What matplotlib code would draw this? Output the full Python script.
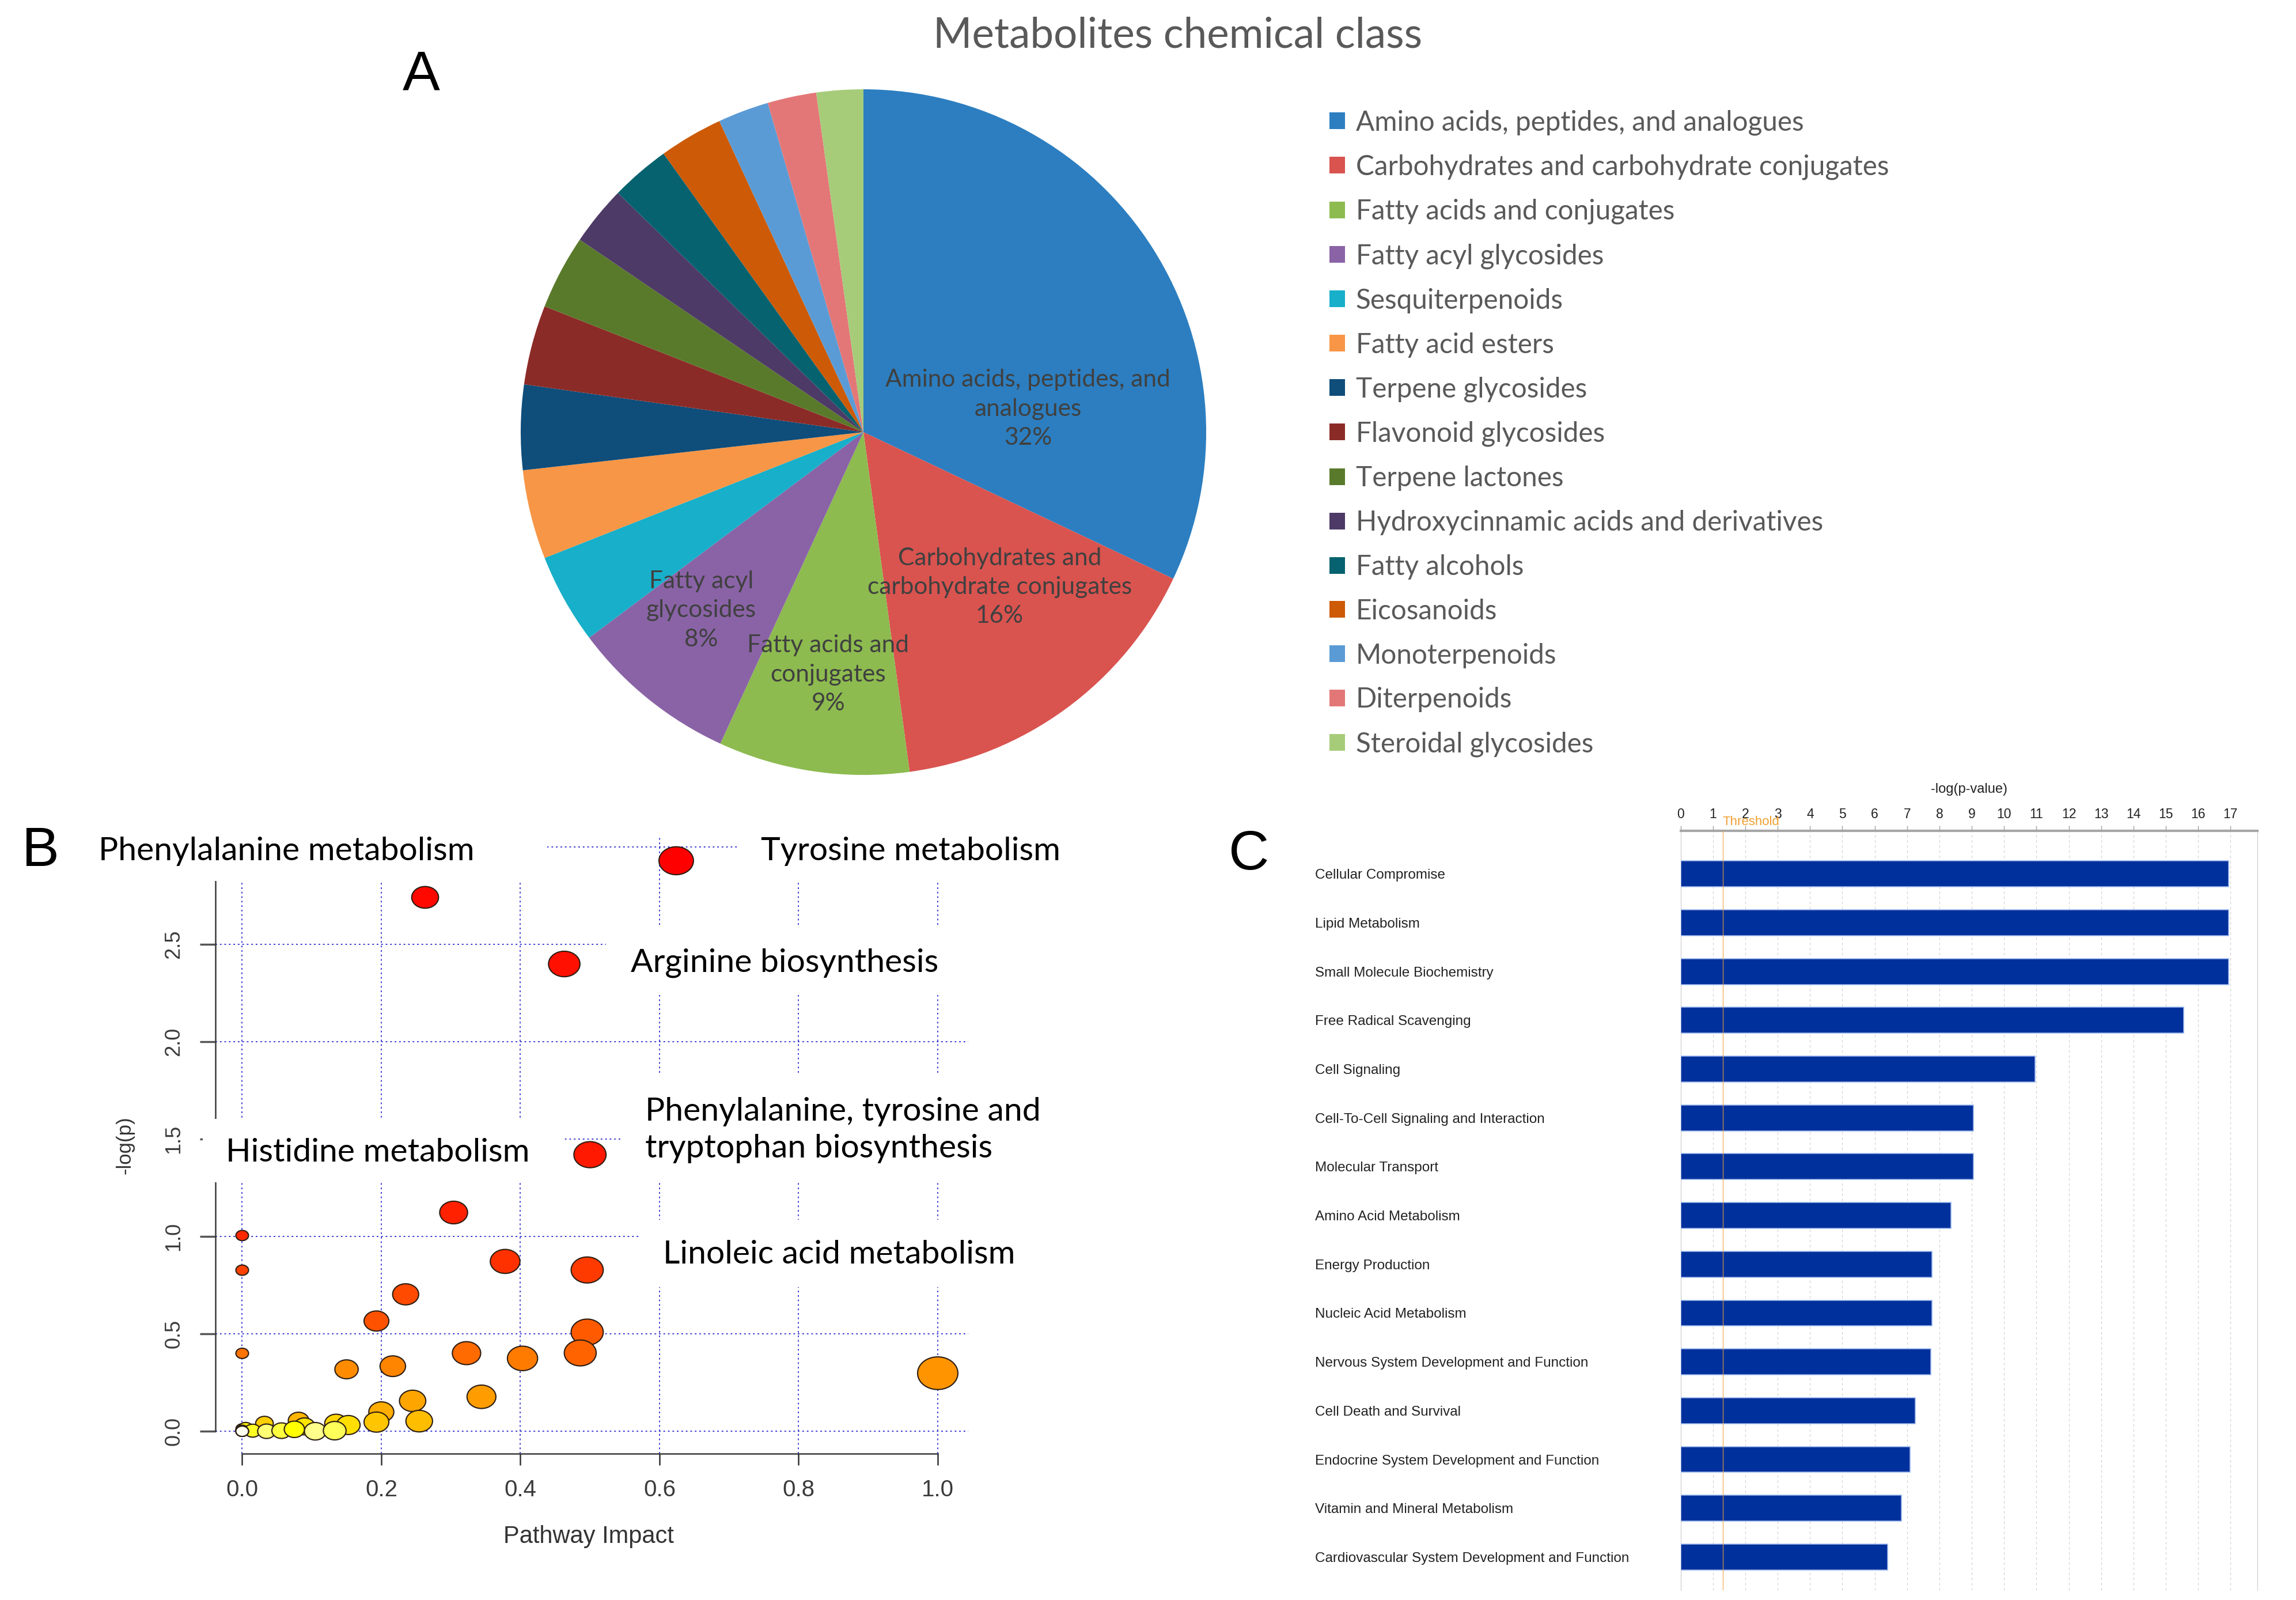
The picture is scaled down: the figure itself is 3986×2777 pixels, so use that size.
import colorsys
import numpy as np
import matplotlib
matplotlib.use('Agg')
import matplotlib.pyplot as plt
from matplotlib.patches import Rectangle
from matplotlib.path import Path
from matplotlib.transforms import blended_transform_factory

W, H = 3986, 2777

# ---------------- A: metabolite chemical classes (% of metabolites)
classes = ['Amino acids, peptides, and analogues',
           'Carbohydrates and carbohydrate conjugates',
           'Fatty acids and conjugates',
           'Fatty acyl glycosides',
           'Sesquiterpenoids',
           'Fatty acid esters',
           'Terpene glycosides',
           'Flavonoid glycosides',
           'Terpene lactones',
           'Hydroxycinnamic acids and derivatives',
           'Fatty alcohols',
           'Eicosanoids',
           'Monoterpenoids',
           'Diterpenoids',
           'Steroidal glycosides']
shares = [32.0, 15.8, 9.0, 7.9, 4.25, 4.2, 4.0, 3.75, 3.5, 2.8, 2.8, 3.0, 2.4, 2.3, 2.2]
class_colors = ['#2C7EC0', '#D9534F', '#8DBB4F', '#8A63A6', '#17AFC9',
                '#F79646', '#0F4D7A', '#8B2B27', '#5A7A2B', '#4D3A66',
                '#07626F', '#CD5A06', '#5B9BD5', '#E37777', '#A6CC7A']

# ---------------- B: pathway analysis (impact vs -log(p))
# the last few sit on top of each other at the origin
impact = [0.263, 0.624, 0.463, 0.500,
          0.304, 0.0, 0.0, 0.0, 0.378, 0.496, 0.235, 0.193, 0.496,
          0.3225, 0.403, 0.486, 0.150, 0.2165, 1.0, 0.344, 0.245,
          0.200, 0.193, 0.2545, 0.032, 0.081, 0.0895, 0.135, 0.1526,
          0.0, 0.005, 0.0, 0.015, 0.035, 0.0565, 0.075, 0.105, 0.133,
          0.0, 0.0, 0.0, 0.0]
neglogp = [2.741, 2.929, 2.399, 1.420,
           1.123, 1.005, 0.827, 0.400, 0.872, 0.828, 0.703, 0.566, 0.509,
           0.401, 0.374, 0.402, 0.318, 0.334, 0.298, 0.177, 0.156,
           0.099, 0.047, 0.052, 0.040, 0.055, 0.025, 0.040, 0.032,
           0.012, 0.015, 0.005, 0.003, 0.0, 0.003, 0.010, 0.0, 0.003,
           0.0, 0.0, 0.0, 0.0]

# ---------------- C: top functions, -log(p-value)
functions = ['Cellular Compromise', 'Lipid Metabolism', 'Small Molecule Biochemistry',
             'Free Radical Scavenging', 'Cell Signaling',
             'Cell-To-Cell Signaling and Interaction', 'Molecular Transport',
             'Amino Acid Metabolism', 'Energy Production', 'Nucleic Acid Metabolism',
             'Nervous System Development and Function', 'Cell Death and Survival',
             'Endocrine System Development and Function',
             'Vitamin and Mineral Metabolism',
             'Cardiovascular System Development and Function']
func_scores = [16.94, 16.94, 16.94, 15.55, 10.96, 9.05, 9.05, 8.36, 7.77, 7.77,
               7.73, 7.25, 7.09, 6.82, 6.40]
threshold = 1.3


def heat_colors(n):
    # same ramp as R's heat.colors()
    j = n // 4
    i = n - j
    cols = [colorsys.hsv_to_rgb(h, 1, 1) for h in np.linspace(0, 1 / 6, i)]
    if j > 0:
        cols += [colorsys.hsv_to_rgb(1 / 6, s, 1)
                 for s in np.linspace(1 - 1 / (2 * j), 1 / (2 * j), j)]
    return cols


def fbox(left, top, right, bottom):
    return [left / W, 1 - bottom / H, (right - left) / W, (bottom - top) / H]


fig = plt.figure(figsize=(W / 100, H / 100), dpi=100)

# ======================= panel A
ax_a = fig.add_axes(fbox(1499 - 595, 750 - 595, 1499 + 595, 750 + 595))
wedges, _ = ax_a.pie(shares, colors=class_colors, startangle=90, counterclock=False,
                     wedgeprops=dict(linewidth=0))
ax_a.set_xlim(-1, 1)
ax_a.set_ylim(-1, 1)
pie_labels = [('Amino acids, peptides, and\nanalogues', 0, 0.48, 0.068),
              ('Carbohydrates and\ncarbohydrate conjugates', 1, 0.397, -0.452),
              ('Fatty acids and\nconjugates', 2, -0.103, -0.707),
              ('Fatty acyl\nglycosides', 3, -0.473, -0.52)]
for txt, k, lx, ly in pie_labels:
    ax_a.text(lx, ly, f'{txt}\n{round(shares[k])}%', ha='center', va='center',
              fontsize=30.5, family='Lato', color='#404040', linespacing=1.4)

ax_a.legend(wedges, classes, loc='center left', bbox_to_anchor=(2308 / W, 1 - 752 / H),
            bbox_transform=fig.transFigure, frameon=False,
            handlelength=0.56, handleheight=0.56, handletextpad=0.4,
            labelspacing=0.69, borderpad=0, borderaxespad=0,
            prop=dict(family='Lato', size=34.3), labelcolor='#595959')

fig.text(2045 / W, 1 - 62 / H, 'Metabolites chemical class', ha='center', va='center',
         fontsize=52.5, color='#595959', family='Lato')

# ======================= panel B
ax_b = fig.add_axes(fbox(374, 1452, 1680.5, 2523))
ax_b.set_xlim(-0.0385, 1.0435)
ax_b.set_ylim(-0.115, 3.053)
xt = np.arange(0, 1.01, 0.2)
yt = np.arange(0, 3.01, 0.5)
ax_b.set_xticks(xt)
ax_b.set_xticklabels([f'{v:.1f}' for v in xt],
                     family='Liberation Sans', fontsize=29, color='#3a3a3a')
ax_b.set_yticks(yt)
# the 3.0 label sits under the label box in the original
ax_b.set_yticklabels([f'{v:.1f}' if v < 2.9 else '' for v in yt],
                     family='Liberation Sans', fontsize=26, color='#3a3a3a',
                     rotation=90, va='center')
ax_b.tick_params(axis='x', length=14.4, width=1.8, pad=17, color='#333333')
ax_b.tick_params(axis='y', length=19.4, width=2.5, pad=20, color='#555555')
ax_b.grid(True, color='#3c3cd2', linestyle=(0, (1.5, 2.5)), linewidth=1.4)
for s in ['top', 'right']:
    ax_b.spines[s].set_visible(False)
ax_b.spines['left'].set_bounds(0, 3.0)
ax_b.spines['bottom'].set_bounds(0, 1.0)
for s in ['left', 'bottom']:
    ax_b.spines[s].set_color('#3a3a3a')
    ax_b.spines[s].set_linewidth(1.8)

ax_b.set_ylabel('-log(p)', family='Liberation Sans', fontsize=25, color='#333333')
ax_b.yaxis.set_label_coords(-0.12, 0.4995)
ax_b.yaxis.label.set_va('center')
ax_b.set_xlabel('Pathway Impact', family='Liberation Sans', fontsize=30, color='#333333')
ax_b.xaxis.set_label_coords(0.4956, -0.1345)
ax_b.xaxis.label.set_va('center')

# white label boxes that hide the grid behind the pathway names
label_boxes = [(-0.224, 2.825, 0.6625, 0.32),
               (0.7115, 2.825, 0.52, 0.32),
               (0.523, 2.24, 0.54, 0.346),
               (0.545, 1.284, 0.52, 0.547),
               (-0.0567, 1.278, 0.5184, 0.326),
               (0.5726, 0.740, 0.49, 0.346)]
for bx, by, bw, bh in label_boxes:
    ax_b.add_patch(Rectangle((bx, by), bw, bh, facecolor='white', edgecolor='none',
                             zorder=3, clip_on=False))

order = np.argsort(-np.array(neglogp), kind='stable')
ramp = heat_colors(len(neglogp))
pt_colors = [None] * len(neglogp)
for r, idx in enumerate(order):
    pt_colors[idx] = ramp[r]
widths_pt = (22 + 48 * np.sqrt(np.array(impact))) * 0.72
theta = np.linspace(0, 2 * np.pi, 64)
ellipse = Path(np.column_stack([np.cos(theta), 0.81 * np.sin(theta)]), closed=True)
ax_b.scatter(impact, neglogp, s=widths_pt ** 2, c=pt_colors, marker=ellipse,
             edgecolors='#2b1d12', linewidths=1.5, zorder=4, clip_on=False)

pathway_texts = [('Phenylalanine metabolism', -0.207, 2.979),
                 ('Tyrosine metabolism', 0.7457, 2.979),
                 ('Arginine biosynthesis', 0.559, 2.405),
                 ('Phenylalanine, tyrosine and\ntryptophan biosynthesis', 0.579, 1.546),
                 ('Histidine metabolism', -0.0236, 1.432),
                 ('Linoleic acid metabolism', 0.605, 0.908)]
for txt, tx, ty in pathway_texts:
    ax_b.text(tx, ty, txt, ha='left', va='center', fontsize=41, family='Lato',
              color='black', zorder=5, clip_on=False, linespacing=1.32)

# ======================= panel C
ax_c = fig.add_axes(fbox(2917.7, 1442, 3919, 2760))
ypos = np.arange(len(functions))
ax_c.barh(ypos, func_scores, height=0.53, color='#00309B', edgecolor='#9AB6EC',
          linewidth=1.2, zorder=3)
ax_c.set_xlim(0, 17.83)
ax_c.set_ylim(14.68, -0.883)
ax_c.xaxis.tick_top()
ax_c.set_xticks(range(18))
ax_c.set_xticklabels([str(v) for v in range(18)], family='Liberation Sans',
                     fontsize=16.5, color='#222222')
ax_c.tick_params(axis='x', length=6.5, width=1, pad=6, color='#a0a0a0')
ax_c.set_yticks(ypos)
ax_c.set_yticklabels(functions, family='Liberation Sans', fontsize=17.5, color='#222222')
ax_c.tick_params(axis='y', length=0, pad=457)
for lbl in ax_c.get_yticklabels():
    lbl.set_ha('left')
ax_c.grid(axis='x', color='#cfcfcf', linestyle=(0, (4, 4)), linewidth=0.8, zorder=0)
ax_c.set_axisbelow(True)
ax_c.axvline(threshold, color='#F0A040', lw=1.0, alpha=0.8, zorder=4)
ax_c.spines['bottom'].set_visible(False)
ax_c.spines['top'].set_color('#a6a6a6')
ax_c.spines['top'].set_linewidth(3)
for s in ['left', 'right']:
    ax_c.spines[s].set_color('#cccccc')
    ax_c.spines[s].set_linewidth(0.8)
trans_c = blended_transform_factory(ax_c.transData, ax_c.transAxes)
ax_c.text(threshold, 1.012, 'Threshold', transform=trans_c, ha='left', va='center',
          fontsize=16, family='Liberation Sans', color='#F0A030', clip_on=False)
ax_c.text(0.5, 1.0546, '-log(p-value)', transform=ax_c.transAxes, ha='center',
          va='center', fontsize=17, family='Liberation Sans', color='#222222')

# panel letters
for letter, lx, ly in [('A', 731, 131), ('B', 70, 1478), ('C', 2168, 1484)]:
    fig.text(lx / W, 1 - ly / H, letter, ha='center', va='center', fontsize=70,
             family='Liberation Sans', color='black')

fig.savefig('out.png', dpi=100, facecolor='white')
